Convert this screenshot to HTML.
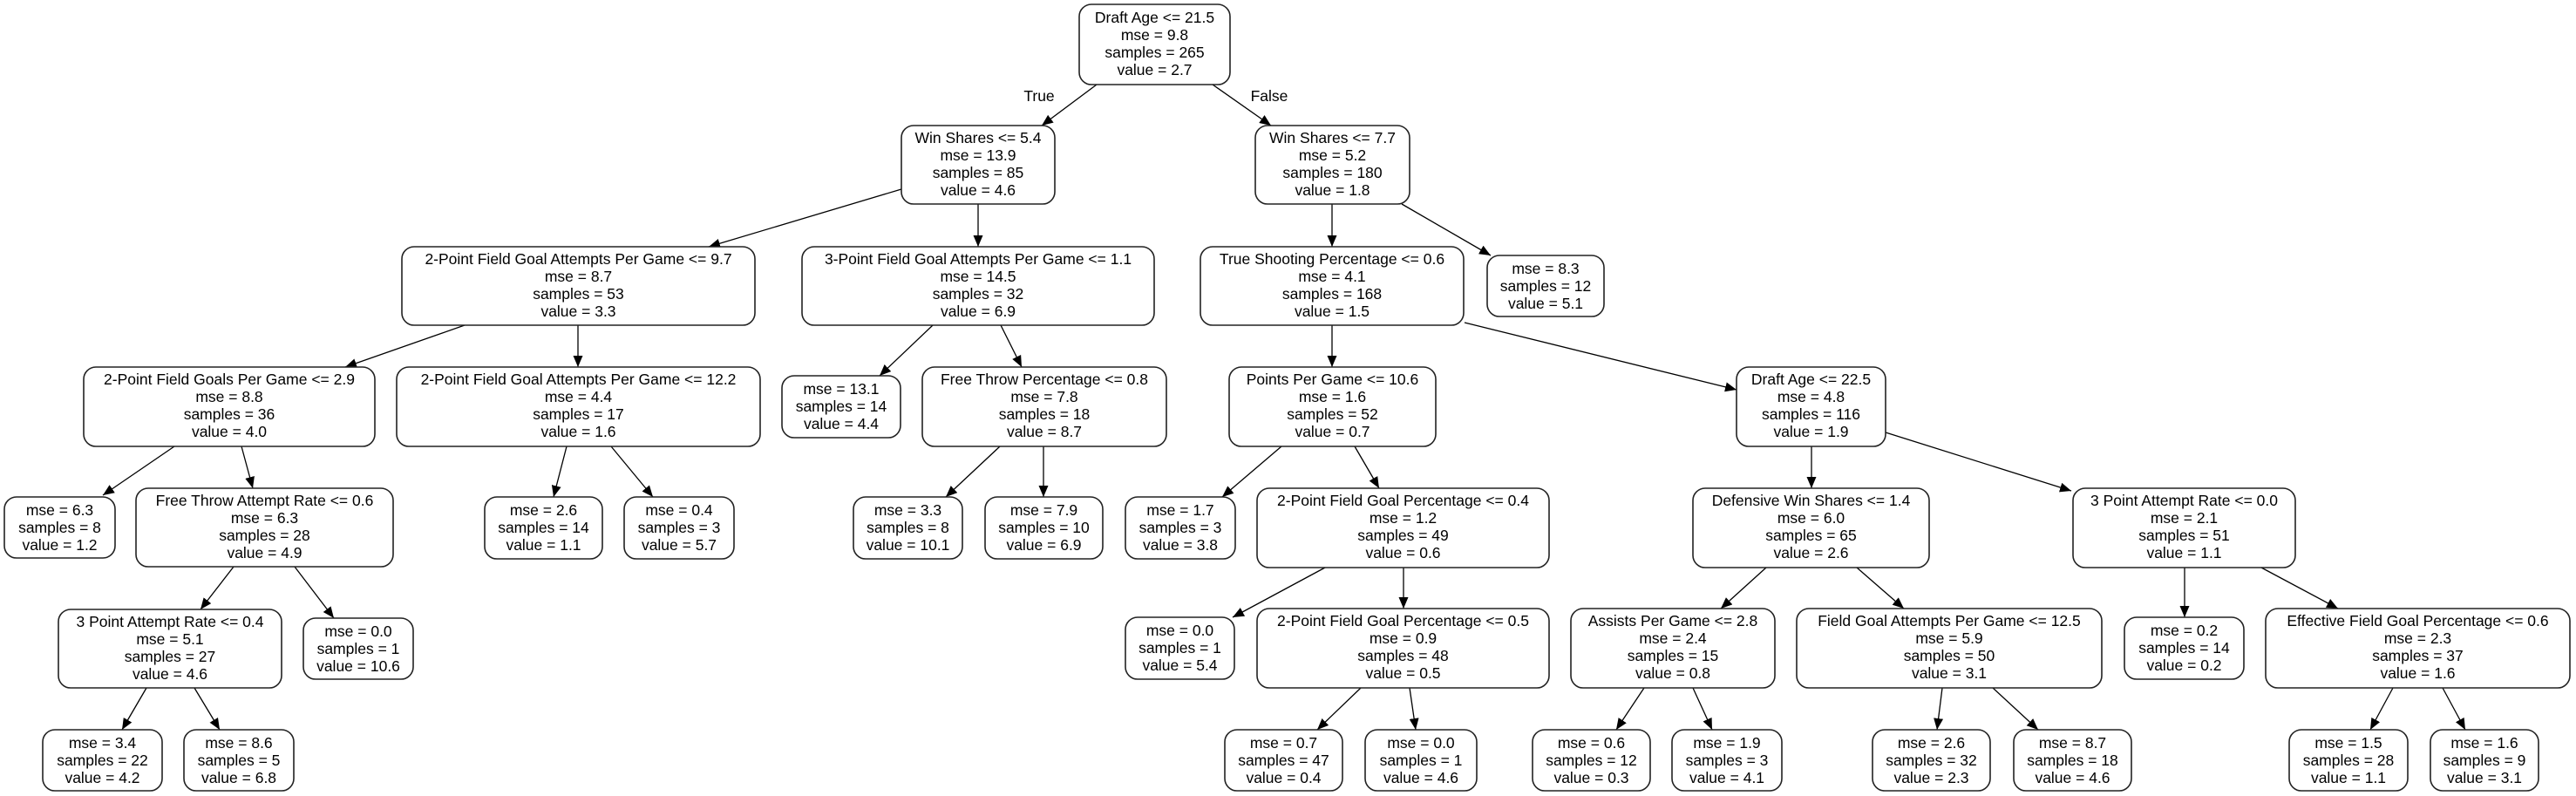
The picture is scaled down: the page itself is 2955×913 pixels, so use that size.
<!DOCTYPE html>
<html><head><meta charset="utf-8"><style>
html,body{margin:0;padding:0;background:#fff;}
svg{display:block;}
text{font-family:"Liberation Sans",Arial,sans-serif;font-size:17.5px;fill:#000;text-anchor:middle;dominant-baseline:central;}
rect{fill:#fff;stroke:#222;stroke-width:1.6;}
line{stroke:#000;stroke-width:1.3;}
</style></head><body>
<svg width="2955" height="913" viewBox="0 0 2955 913" xmlns="http://www.w3.org/2000/svg">
<defs><marker id="a" markerUnits="userSpaceOnUse" markerWidth="14" markerHeight="12" refX="13" refY="5.5" orient="auto"><path d="M0,0 L13,5.5 L0,11 z" fill="#000"/></marker></defs>
<g id="edges">
<line x1="1258" y1="97" x2="1195" y2="144" marker-end="url(#a)"/>
<line x1="1391" y1="97" x2="1458" y2="144" marker-end="url(#a)"/>
<line x1="1034" y1="217" x2="813" y2="283" marker-end="url(#a)"/>
<line x1="1122" y1="234" x2="1122" y2="283" marker-end="url(#a)"/>
<line x1="533" y1="373" x2="396" y2="421" marker-end="url(#a)"/>
<line x1="663" y1="373" x2="663" y2="421" marker-end="url(#a)"/>
<line x1="1070" y1="373" x2="1009" y2="431" marker-end="url(#a)"/>
<line x1="1148" y1="373" x2="1172" y2="421" marker-end="url(#a)"/>
<line x1="200" y1="512" x2="118" y2="568" marker-end="url(#a)"/>
<line x1="277" y1="512" x2="290" y2="560" marker-end="url(#a)"/>
<line x1="268" y1="650" x2="230" y2="699" marker-end="url(#a)"/>
<line x1="338" y1="650" x2="383" y2="709" marker-end="url(#a)"/>
<line x1="168" y1="789" x2="140" y2="837" marker-end="url(#a)"/>
<line x1="223" y1="789" x2="252" y2="837" marker-end="url(#a)"/>
<line x1="650" y1="512" x2="635" y2="570" marker-end="url(#a)"/>
<line x1="701" y1="512" x2="749" y2="570" marker-end="url(#a)"/>
<line x1="1147" y1="512" x2="1085" y2="570" marker-end="url(#a)"/>
<line x1="1197" y1="512" x2="1197" y2="570" marker-end="url(#a)"/>
<line x1="1470" y1="512" x2="1402" y2="570" marker-end="url(#a)"/>
<line x1="1554" y1="512" x2="1582" y2="560" marker-end="url(#a)"/>
<line x1="1520" y1="651" x2="1414" y2="708" marker-end="url(#a)"/>
<line x1="1610" y1="651" x2="1610" y2="698" marker-end="url(#a)"/>
<line x1="1561" y1="789" x2="1511" y2="837" marker-end="url(#a)"/>
<line x1="1617" y1="789" x2="1624" y2="837" marker-end="url(#a)"/>
<line x1="1528" y1="234" x2="1528" y2="283" marker-end="url(#a)"/>
<line x1="1608" y1="234" x2="1710" y2="293" marker-end="url(#a)"/>
<line x1="1528" y1="373" x2="1528" y2="421" marker-end="url(#a)"/>
<line x1="1680" y1="370" x2="1992" y2="447" marker-end="url(#a)"/>
<line x1="2078" y1="512" x2="2078" y2="560" marker-end="url(#a)"/>
<line x1="2163" y1="496" x2="2376" y2="563" marker-end="url(#a)"/>
<line x1="2026" y1="651" x2="1974" y2="698" marker-end="url(#a)"/>
<line x1="2130" y1="651" x2="2184" y2="698" marker-end="url(#a)"/>
<line x1="2506" y1="651" x2="2506" y2="708" marker-end="url(#a)"/>
<line x1="2594" y1="651" x2="2682" y2="698" marker-end="url(#a)"/>
<line x1="1886" y1="789" x2="1854" y2="837" marker-end="url(#a)"/>
<line x1="1942" y1="789" x2="1964" y2="837" marker-end="url(#a)"/>
<line x1="2228" y1="789" x2="2222" y2="837" marker-end="url(#a)"/>
<line x1="2286" y1="789" x2="2338" y2="837" marker-end="url(#a)"/>
<line x1="2745" y1="789" x2="2719" y2="837" marker-end="url(#a)"/>
<line x1="2802" y1="789" x2="2828" y2="837" marker-end="url(#a)"/>
</g>
<text x="1192" y="110">True</text>
<text x="1456" y="110">False</text>

<!-- nodes -->
<rect x="1238" y="5" width="173" height="92" rx="14"/>
<text x="1324.5" y="20">Draft Age &lt;= 21.5</text><text x="1324.5" y="40">mse = 9.8</text><text x="1324.5" y="60">samples = 265</text><text x="1324.5" y="80">value = 2.7</text>

<rect x="1034" y="144" width="176" height="90" rx="14"/>
<text x="1122" y="158">Win Shares &lt;= 5.4</text><text x="1122" y="178">mse = 13.9</text><text x="1122" y="198">samples = 85</text><text x="1122" y="218">value = 4.6</text>

<rect x="1440" y="144" width="177" height="90" rx="14"/>
<text x="1528.5" y="158">Win Shares &lt;= 7.7</text><text x="1528.5" y="178">mse = 5.2</text><text x="1528.5" y="198">samples = 180</text><text x="1528.5" y="218">value = 1.8</text>

<rect x="461" y="283" width="405" height="90" rx="14"/>
<text x="663.5" y="297">2-Point Field Goal Attempts Per Game &lt;= 9.7</text><text x="663.5" y="317">mse = 8.7</text><text x="663.5" y="337">samples = 53</text><text x="663.5" y="357">value = 3.3</text>

<rect x="920" y="283" width="404" height="90" rx="14"/>
<text x="1122" y="297">3-Point Field Goal Attempts Per Game &lt;= 1.1</text><text x="1122" y="317">mse = 14.5</text><text x="1122" y="337">samples = 32</text><text x="1122" y="357">value = 6.9</text>

<rect x="1377" y="283" width="302" height="90" rx="14"/>
<text x="1528" y="297">True Shooting Percentage &lt;= 0.6</text><text x="1528" y="317">mse = 4.1</text><text x="1528" y="337">samples = 168</text><text x="1528" y="357">value = 1.5</text>

<rect x="1706" y="293" width="134" height="70" rx="14"/>
<text x="1773" y="308">mse = 8.3</text><text x="1773" y="328">samples = 12</text><text x="1773" y="348">value = 5.1</text>

<rect x="96" y="421" width="334" height="91" rx="14"/>
<text x="263" y="435">2-Point Field Goals Per Game &lt;= 2.9</text><text x="263" y="455">mse = 8.8</text><text x="263" y="475">samples = 36</text><text x="263" y="495">value = 4.0</text>

<rect x="455" y="421" width="417" height="91" rx="14"/>
<text x="663.5" y="435">2-Point Field Goal Attempts Per Game &lt;= 12.2</text><text x="663.5" y="455">mse = 4.4</text><text x="663.5" y="475">samples = 17</text><text x="663.5" y="495">value = 1.6</text>

<rect x="897" y="431" width="136" height="71" rx="14"/>
<text x="965" y="446">mse = 13.1</text><text x="965" y="466">samples = 14</text><text x="965" y="486">value = 4.4</text>

<rect x="1058" y="421" width="280" height="91" rx="14"/>
<text x="1198" y="435">Free Throw Percentage &lt;= 0.8</text><text x="1198" y="455">mse = 7.8</text><text x="1198" y="475">samples = 18</text><text x="1198" y="495">value = 8.7</text>

<rect x="1410" y="421" width="237" height="91" rx="14"/>
<text x="1528.5" y="435">Points Per Game &lt;= 10.6</text><text x="1528.5" y="455">mse = 1.6</text><text x="1528.5" y="475">samples = 52</text><text x="1528.5" y="495">value = 0.7</text>

<rect x="1992" y="421" width="171" height="91" rx="14"/>
<text x="2077.5" y="435">Draft Age &lt;= 22.5</text><text x="2077.5" y="455">mse = 4.8</text><text x="2077.5" y="475">samples = 116</text><text x="2077.5" y="495">value = 1.9</text>

<rect x="5" y="570" width="127" height="70" rx="14"/>
<text x="68.5" y="585">mse = 6.3</text><text x="68.5" y="605">samples = 8</text><text x="68.5" y="625">value = 1.2</text>

<rect x="156" y="560" width="295" height="90" rx="14"/>
<text x="303.5" y="574">Free Throw Attempt Rate &lt;= 0.6</text><text x="303.5" y="594">mse = 6.3</text><text x="303.5" y="614">samples = 28</text><text x="303.5" y="634">value = 4.9</text>

<rect x="556" y="570" width="135" height="71" rx="14"/>
<text x="623.5" y="585">mse = 2.6</text><text x="623.5" y="605">samples = 14</text><text x="623.5" y="625">value = 1.1</text>

<rect x="716" y="570" width="126" height="71" rx="14"/>
<text x="779" y="585">mse = 0.4</text><text x="779" y="605">samples = 3</text><text x="779" y="625">value = 5.7</text>

<rect x="979" y="570" width="125" height="71" rx="14"/>
<text x="1041.5" y="585">mse = 3.3</text><text x="1041.5" y="605">samples = 8</text><text x="1041.5" y="625">value = 10.1</text>

<rect x="1130" y="570" width="135" height="71" rx="14"/>
<text x="1197.5" y="585">mse = 7.9</text><text x="1197.5" y="605">samples = 10</text><text x="1197.5" y="625">value = 6.9</text>

<rect x="1291" y="570" width="126" height="71" rx="14"/>
<text x="1354" y="585">mse = 1.7</text><text x="1354" y="605">samples = 3</text><text x="1354" y="625">value = 3.8</text>

<rect x="1442" y="560" width="335" height="91" rx="14"/>
<text x="1609.5" y="574">2-Point Field Goal Percentage &lt;= 0.4</text><text x="1609.5" y="594">mse = 1.2</text><text x="1609.5" y="614">samples = 49</text><text x="1609.5" y="634">value = 0.6</text>

<rect x="1942" y="560" width="271" height="91" rx="14"/>
<text x="2077.5" y="574">Defensive Win Shares &lt;= 1.4</text><text x="2077.5" y="594">mse = 6.0</text><text x="2077.5" y="614">samples = 65</text><text x="2077.5" y="634">value = 2.6</text>

<rect x="2378" y="560" width="255" height="91" rx="14"/>
<text x="2505.5" y="574">3 Point Attempt Rate &lt;= 0.0</text><text x="2505.5" y="594">mse = 2.1</text><text x="2505.5" y="614">samples = 51</text><text x="2505.5" y="634">value = 1.1</text>

<rect x="67" y="699" width="256" height="90" rx="14"/>
<text x="195" y="713">3 Point Attempt Rate &lt;= 0.4</text><text x="195" y="733">mse = 5.1</text><text x="195" y="753">samples = 27</text><text x="195" y="773">value = 4.6</text>

<rect x="348" y="709" width="126" height="70" rx="14"/>
<text x="411" y="724">mse = 0.0</text><text x="411" y="744">samples = 1</text><text x="411" y="764">value = 10.6</text>

<rect x="1291" y="708" width="125" height="71" rx="14"/>
<text x="1353.5" y="723">mse = 0.0</text><text x="1353.5" y="743">samples = 1</text><text x="1353.5" y="763">value = 5.4</text>

<rect x="1442" y="698" width="335" height="91" rx="14"/>
<text x="1609.5" y="712">2-Point Field Goal Percentage &lt;= 0.5</text><text x="1609.5" y="732">mse = 0.9</text><text x="1609.5" y="752">samples = 48</text><text x="1609.5" y="772">value = 0.5</text>

<rect x="1802" y="698" width="234" height="91" rx="14"/>
<text x="1919" y="712">Assists Per Game &lt;= 2.8</text><text x="1919" y="732">mse = 2.4</text><text x="1919" y="752">samples = 15</text><text x="1919" y="772">value = 0.8</text>

<rect x="2061" y="698" width="350" height="91" rx="14"/>
<text x="2236" y="712">Field Goal Attempts Per Game &lt;= 12.5</text><text x="2236" y="732">mse = 5.9</text><text x="2236" y="752">samples = 50</text><text x="2236" y="772">value = 3.1</text>

<rect x="2437" y="708" width="137" height="71" rx="14"/>
<text x="2505.5" y="723">mse = 0.2</text><text x="2505.5" y="743">samples = 14</text><text x="2505.5" y="763">value = 0.2</text>

<rect x="2599" y="698" width="349" height="91" rx="14"/>
<text x="2773.5" y="712">Effective Field Goal Percentage &lt;= 0.6</text><text x="2773.5" y="732">mse = 2.3</text><text x="2773.5" y="752">samples = 37</text><text x="2773.5" y="772">value = 1.6</text>

<rect x="49" y="837" width="137" height="70" rx="14"/>
<text x="117.5" y="852">mse = 3.4</text><text x="117.5" y="872">samples = 22</text><text x="117.5" y="892">value = 4.2</text>

<rect x="211" y="837" width="126" height="70" rx="14"/>
<text x="274" y="852">mse = 8.6</text><text x="274" y="872">samples = 5</text><text x="274" y="892">value = 6.8</text>

<rect x="1405" y="837" width="135" height="70" rx="14"/>
<text x="1472.5" y="852">mse = 0.7</text><text x="1472.5" y="872">samples = 47</text><text x="1472.5" y="892">value = 0.4</text>

<rect x="1566" y="837" width="128" height="70" rx="14"/>
<text x="1630" y="852">mse = 0.0</text><text x="1630" y="872">samples = 1</text><text x="1630" y="892">value = 4.6</text>

<rect x="1758" y="837" width="135" height="70" rx="14"/>
<text x="1825.5" y="852">mse = 0.6</text><text x="1825.5" y="872">samples = 12</text><text x="1825.5" y="892">value = 0.3</text>

<rect x="1918" y="837" width="126" height="70" rx="14"/>
<text x="1981" y="852">mse = 1.9</text><text x="1981" y="872">samples = 3</text><text x="1981" y="892">value = 4.1</text>

<rect x="2148" y="837" width="135" height="70" rx="14"/>
<text x="2215.5" y="852">mse = 2.6</text><text x="2215.5" y="872">samples = 32</text><text x="2215.5" y="892">value = 2.3</text>

<rect x="2310" y="837" width="135" height="70" rx="14"/>
<text x="2377.5" y="852">mse = 8.7</text><text x="2377.5" y="872">samples = 18</text><text x="2377.5" y="892">value = 4.6</text>

<rect x="2626" y="837" width="136" height="70" rx="14"/>
<text x="2694" y="852">mse = 1.5</text><text x="2694" y="872">samples = 28</text><text x="2694" y="892">value = 1.1</text>

<rect x="2788" y="837" width="124" height="70" rx="14"/>
<text x="2850" y="852">mse = 1.6</text><text x="2850" y="872">samples = 9</text><text x="2850" y="892">value = 3.1</text>
</svg>
</body></html>
